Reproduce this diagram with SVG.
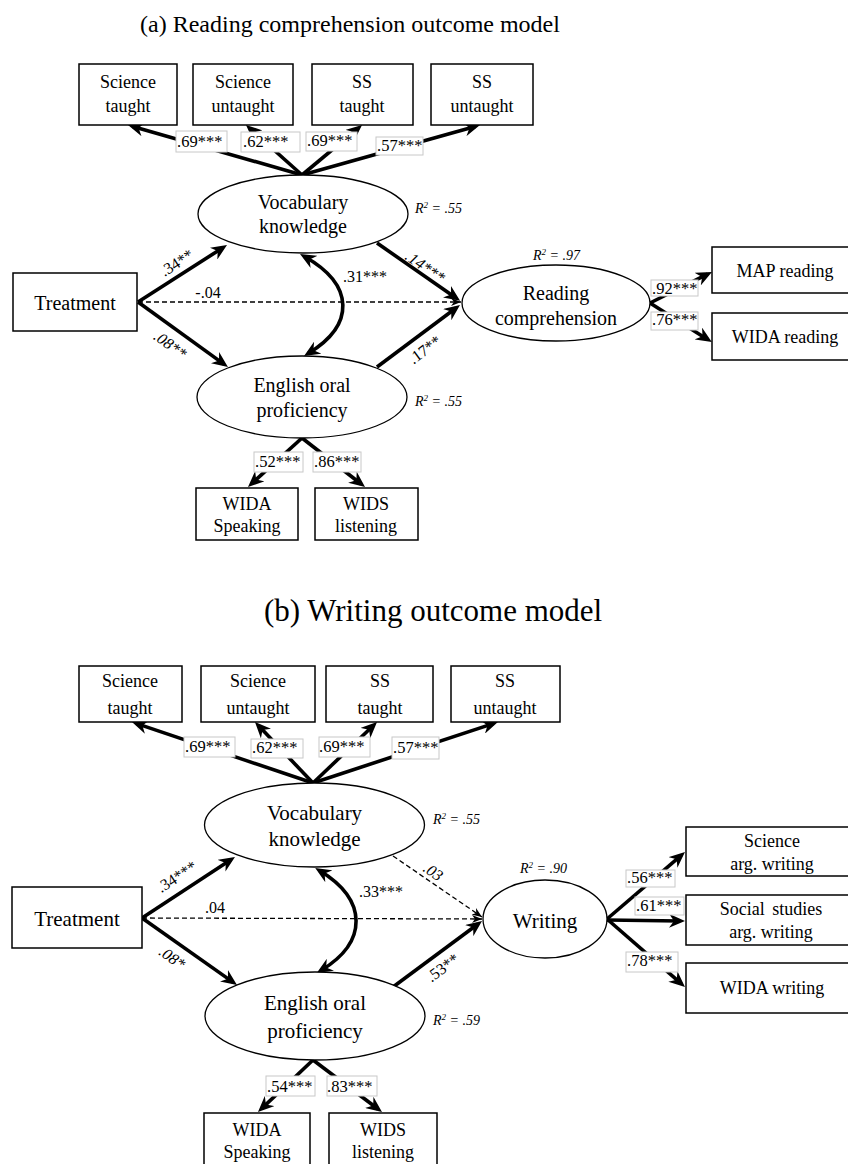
<svg xmlns="http://www.w3.org/2000/svg" width="848" height="1164" viewBox="0 0 848 1164">
<style>
text{font-family:"Liberation Serif","Times New Roman",serif;fill:#000}
.title{font-size:24px;text-anchor:middle}
.nt{font-size:18px;text-anchor:middle}
.et{font-size:20px;text-anchor:middle}
.lt{font-size:16.5px}
.rt{font-size:16px;text-anchor:middle}
.r2{font-size:14px;font-style:italic}
.box{fill:#fff;stroke:#000;stroke-width:1.5}
.ell{fill:#fff;stroke:#000;stroke-width:1.3}
.th{fill:none;stroke:#000;stroke-width:3.6;marker-end:url(#ah)}
.da{fill:none;stroke:#000;stroke-width:1.3;stroke-dasharray:5,3;marker-end:url(#ahs)}
.cv{fill:none;stroke:#000;stroke-width:3.6;marker-end:url(#ah);marker-start:url(#ahr)}
.lb{fill:#fff;stroke:#c8c8c8;stroke-width:1}
</style>
<defs>
<marker id="ah" markerUnits="userSpaceOnUse" viewBox="0 0 16 14" markerWidth="16" markerHeight="14" refX="11" refY="7" orient="auto"><path d="M0,0 L16,7 L0,14 L5,7 z" fill="#000"/></marker>
<marker id="ahr" markerUnits="userSpaceOnUse" viewBox="0 0 16 14" markerWidth="16" markerHeight="14" refX="11" refY="7" orient="auto-start-reverse"><path d="M0,0 L16,7 L0,14 L5,7 z" fill="#000"/></marker>
<marker id="ahs" markerUnits="userSpaceOnUse" viewBox="0 0 10 8" markerWidth="10" markerHeight="8" refX="10" refY="4" orient="auto"><path d="M0,0 L10,4 L0,8 L3,4 z" fill="#000"/></marker>
</defs>
<rect width="848" height="1164" fill="#fff"/>

<text class="title" x="350" y="32">(a) Reading comprehension outcome model</text>
<text class="title" x="433" y="621" style="font-size:31px">(b) Writing outcome model</text>

<g id="connectors">
<!-- (a) -->
<line class="th" x1="302" y1="175" x2="132.8" y2="126.4"/>
<line class="th" x1="302" y1="175" x2="249.7" y2="128.3"/>
<line class="th" x1="302" y1="175" x2="358.2" y2="128.2"/>
<line class="th" x1="302" y1="175" x2="475.2" y2="126.4"/>
<line class="th" x1="138" y1="302" x2="222.8" y2="247.7"/>
<line class="th" x1="138" y1="302" x2="223.9" y2="364.1"/>
<line class="da" x1="138" y1="302" x2="461" y2="302"/>
<line class="th" x1="377" y1="243" x2="456" y2="298"/>
<line class="th" x1="377" y1="367" x2="456" y2="308"/>
<line class="th" x1="650" y1="303" x2="707.5" y2="274.2"/>
<line class="th" x1="650" y1="303" x2="707.6" y2="339.4"/>
<line class="th" x1="302" y1="438" x2="251.7" y2="483.6"/>
<line class="th" x1="302" y1="438" x2="361.1" y2="484"/>
<path class="cv" d="M304.4,256.5 C355,285 355,325 308.3,353.4"/>
<!-- (b) -->
<line class="th" x1="313" y1="783" x2="136.7" y2="723.6"/>
<line class="th" x1="313" y1="783" x2="258.4" y2="725.6"/>
<line class="th" x1="313" y1="783" x2="373.4" y2="725.5"/>
<line class="th" x1="313" y1="783" x2="493.2" y2="723.6"/>
<line class="th" x1="142" y1="918" x2="230.8" y2="859.7"/>
<line class="th" x1="142" y1="918" x2="232.9" y2="982.1"/>
<line class="da" x1="142" y1="918" x2="482" y2="919"/>
<line class="da" x1="393" y1="856" x2="482" y2="917"/>
<line class="th" x1="393" y1="987" x2="478" y2="924"/>
<line class="th" x1="607" y1="919" x2="681.2" y2="855.3"/>
<line class="th" x1="607" y1="920" x2="680" y2="921"/>
<line class="th" x1="607" y1="919" x2="681.2" y2="983.7"/>
<line class="th" x1="313" y1="1060" x2="261.6" y2="1108.6"/>
<line class="th" x1="313" y1="1060" x2="378" y2="1109"/>
<path class="cv" d="M319.5,870.5 C368,900 368,942 321,970.5"/>

<!-- loading labels (a) -->
<rect class="lb" x="176" y="131" width="51" height="21"/><text class="lt" x="177" y="147">.69***</text>
<rect class="lb" x="241" y="132" width="59" height="20"/><text class="lt" x="243" y="147">.62***</text>
<rect class="lb" x="306" y="132" width="51" height="19"/><text class="lt" x="307" y="146">.69***</text>
<rect class="lb" x="376" y="137" width="47" height="18"/><text class="lt" x="377" y="151">.57***</text>
<rect class="lb" x="254" y="452" width="49" height="20"/><text class="lt" x="255" y="467">.52***</text>
<rect class="lb" x="313" y="452" width="48" height="20"/><text class="lt" x="314" y="467">.86***</text>
<rect class="lb" x="651" y="280" width="47" height="16"/><text class="lt" x="652" y="294">.92***</text>
<rect class="lb" x="651" y="312" width="47" height="18"/><text class="lt" x="652" y="325">.76***</text>
<!-- path labels (a) -->
<text class="rt" transform="translate(177,263) rotate(-32.6)" y="5">.34**</text>
<text class="rt" transform="translate(170,345) rotate(35.8)" y="5" font-style="italic">.08**</text>
<text class="rt" transform="translate(425,267) rotate(34.6)" y="5" font-style="italic">.14***</text>
<text class="rt" transform="translate(425,350) rotate(-36.4)" y="5">.17**</text>
<text class="rt" x="208" y="298">-.04</text>
<text class="rt" x="365" y="282">.31***</text>

<!-- loading labels (b) -->
<rect class="lb" x="184" y="737" width="51" height="20"/><text class="lt" x="185" y="752">.69***</text>
<rect class="lb" x="251" y="739" width="52" height="19"/><text class="lt" x="252" y="753">.62***</text>
<rect class="lb" x="319" y="737" width="51" height="20"/><text class="lt" x="319" y="752">.69***</text>
<rect class="lb" x="392" y="737" width="47" height="22"/><text class="lt" x="393" y="753">.57***</text>
<rect class="lb" x="266" y="1076" width="49" height="20"/><text class="lt" x="267" y="1092">.54***</text>
<rect class="lb" x="327" y="1076" width="50" height="20"/><text class="lt" x="327" y="1092">.83***</text>
<rect class="lb" x="626" y="870" width="49" height="17"/><text class="lt" x="627" y="883">.56***</text>
<rect class="lb" x="635" y="897" width="49" height="18"/><text class="lt" x="636" y="911">.61***</text>
<rect class="lb" x="626" y="952" width="52" height="20"/><text class="lt" x="627" y="966">.78***</text>
<!-- path labels (b) -->
<text class="rt" transform="translate(177,877) rotate(-33.3)" y="5">.34***</text>
<text class="rt" transform="translate(172,958) rotate(35.2)" y="5" font-style="italic">.08*</text>
<text class="rt" transform="translate(433,872) rotate(34.4)" y="5" font-style="italic">.03</text>
<text class="rt" transform="translate(443,968) rotate(-36.6)" y="5">.53**</text>
<text class="rt" x="215" y="913">.04</text>
<text class="rt" x="381" y="897">.33***</text>
</g>

<!-- (a) nodes -->
<g id="a-sci-taught"><rect class="box" x="79" y="64" width="98" height="61"/><text class="nt" x="128" y="88">Science</text><text class="nt" x="128" y="112">taught</text></g>
<g id="a-sci-untaught"><rect class="box" x="193" y="64" width="100" height="61"/><text class="nt" x="243" y="88">Science</text><text class="nt" x="243" y="112">untaught</text></g>
<g id="a-ss-taught"><rect class="box" x="312" y="64" width="101" height="61"/><text class="nt" x="362" y="88">SS</text><text class="nt" x="362" y="112">taught</text></g>
<g id="a-ss-untaught"><rect class="box" x="431" y="64" width="102" height="61"/><text class="nt" x="482" y="88">SS</text><text class="nt" x="482" y="112">untaught</text></g>
<g id="a-vocab"><ellipse class="ell" cx="303" cy="214" rx="105" ry="39"/><text class="et" x="303" y="209">Vocabulary</text><text class="et" x="303" y="233">knowledge</text><text class="r2" x="415" y="213">R<tspan font-size="9" dy="-5">2</tspan><tspan dy="5"> = .55</tspan></text></g>
<g id="a-treatment"><rect class="box" x="13" y="273" width="124" height="58"/><text class="et" x="75" y="310">Treatment</text></g>
<g id="a-english"><ellipse class="ell" cx="302" cy="397" rx="105" ry="41"/><text class="et" x="302" y="392">English oral</text><text class="et" x="302" y="417">proficiency</text><text class="r2" x="415" y="406">R<tspan font-size="9" dy="-5">2</tspan><tspan dy="5"> = .55</tspan></text></g>
<g id="a-reading"><ellipse class="ell" cx="556" cy="303" rx="94" ry="38"/><text class="et" x="556" y="300">Reading</text><text class="et" x="556" y="325">comprehension</text><text class="r2" x="533" y="260">R<tspan font-size="9" dy="-5">2</tspan><tspan dy="5"> = .97</tspan></text></g>
<g id="a-map"><rect class="box" x="712" y="247" width="146" height="46"/><text class="nt" x="785" y="277">MAP reading</text></g>
<g id="a-wida-reading"><rect class="box" x="712" y="313" width="146" height="47"/><text class="nt" x="785" y="343">WIDA reading</text></g>
<g id="a-wida-speaking"><rect class="box" x="196" y="488" width="102" height="52"/><text class="nt" x="247" y="510">WIDA</text><text class="nt" x="247" y="532">Speaking</text></g>
<g id="a-wids-listening"><rect class="box" x="315" y="488" width="103" height="52"/><text class="nt" x="366" y="510">WIDS</text><text class="nt" x="366" y="532">listening</text></g>

<!-- (b) nodes -->
<g id="b-sci-taught"><rect class="box" x="79" y="666" width="103" height="56"/><text class="nt" x="130" y="687">Science</text><text class="nt" x="130" y="714">taught</text></g>
<g id="b-sci-untaught"><rect class="box" x="201" y="666" width="114" height="56"/><text class="nt" x="258" y="687">Science</text><text class="nt" x="258" y="714">untaught</text></g>
<g id="b-ss-taught"><rect class="box" x="326" y="666" width="107" height="56"/><text class="nt" x="380" y="687">SS</text><text class="nt" x="380" y="714">taught</text></g>
<g id="b-ss-untaught"><rect class="box" x="451" y="666" width="109" height="56"/><text class="nt" x="505" y="687">SS</text><text class="nt" x="505" y="714">untaught</text></g>
<g id="b-vocab"><ellipse class="ell" cx="314.5" cy="825" rx="110" ry="42"/><text class="et" x="314.5" y="820" style="font-size:21px">Vocabulary</text><text class="et" x="314.5" y="846" style="font-size:21px">knowledge</text><text class="r2" x="433" y="824">R<tspan font-size="9" dy="-5">2</tspan><tspan dy="5"> = .55</tspan></text></g>
<g id="b-treatment"><rect class="box" x="12" y="887" width="130" height="61"/><text class="et" x="77" y="926" style="font-size:21px">Treatment</text></g>
<g id="b-english"><ellipse class="ell" cx="315" cy="1016" rx="110" ry="44"/><text class="et" x="315" y="1010" style="font-size:21px">English oral</text><text class="et" x="315" y="1038" style="font-size:21px">proficiency</text><text class="r2" x="433" y="1025">R<tspan font-size="9" dy="-5">2</tspan><tspan dy="5"> = .59</tspan></text></g>
<g id="b-writing"><ellipse class="ell" cx="545" cy="919" rx="62" ry="39"/><text class="et" x="545" y="928" style="font-size:21px">Writing</text><text class="r2" x="520" y="873">R<tspan font-size="9" dy="-5">2</tspan><tspan dy="5"> = .90</tspan></text></g>
<g id="b-sci-arg"><rect class="box" x="686" y="827" width="172" height="49"/><text class="nt" x="772" y="847">Science</text><text class="nt" x="772" y="870">arg.  writing</text></g>
<g id="b-ss-arg"><rect class="box" x="686" y="895" width="172" height="50"/><text class="nt" x="771" y="915" word-spacing="3">Social studies</text><text class="nt" x="771" y="938">arg.  writing</text></g>
<g id="b-wida-writing"><rect class="box" x="686" y="963" width="172" height="50"/><text class="nt" x="772" y="994">WIDA writing</text></g>
<g id="b-wida-speaking"><rect class="box" x="204" y="1113" width="106" height="60"/><text class="nt" x="257" y="1136">WIDA</text><text class="nt" x="257" y="1158">Speaking</text></g>
<g id="b-wids-listening"><rect class="box" x="329" y="1113" width="108" height="60"/><text class="nt" x="383" y="1136">WIDS</text><text class="nt" x="383" y="1158">listening</text></g>
</svg>
